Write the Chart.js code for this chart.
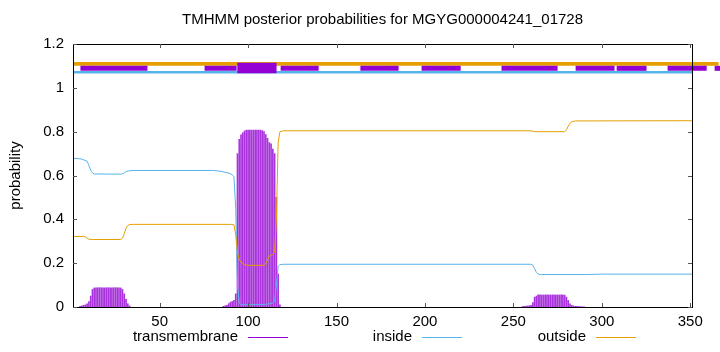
<!DOCTYPE html>
<html>
<head>
<meta charset="utf-8">
<title>TMHMM posterior probabilities</title>
<script src="https://cdn.jsdelivr.net/npm/chart.js@4.4.1/dist/chart.umd.min.js"></script>
<style>
  html, body { margin: 0; padding: 0; background: #fff; }
  canvas { display: block; }
</style>
</head>
<body>
<canvas id="tmhmmChart" width="720" height="352"></canvas>
<script>
// Axis ticks
const xTicks = [50, 100, 150, 200, 250, 300, 350];
const yTicks = [0, 0.2, 0.4, 0.6, 0.8, 1, 1.2];

// Transmembrane posterior per residue (the three stretches above zero)
const tmPeak1Start = 5;
const tmPeak1 = [0.003, 0.005, 0.008, 0.01, 0.015, 0.025, 0.05, 0.08, 0.087, 0.088,
  0.088, 0.088, 0.088, 0.088, 0.088, 0.088, 0.088, 0.088, 0.088, 0.088,
  0.088, 0.088, 0.088, 0.087, 0.08, 0.06, 0.035, 0.015, 0.005];
const tmPeak2Start = 86;
const tmPeak2 = [0.003, 0.005, 0.008, 0.015, 0.022, 0.025, 0.03, 0.06, 0.70, 0.765,
  0.785, 0.795, 0.803, 0.807, 0.807, 0.807, 0.807, 0.807, 0.807, 0.807,
  0.807, 0.807, 0.805, 0.80, 0.787, 0.77, 0.75, 0.745, 0.72, 0.70,
  0.5, 0.15, 0.01];
const tmPeak3Start = 255;
const tmPeak3 = [0.002, 0.003, 0.004, 0.005, 0.006, 0.008, 0.02, 0.045, 0.05, 0.055,
  0.055, 0.055, 0.055, 0.055, 0.055, 0.055, 0.055, 0.055, 0.055, 0.055,
  0.055, 0.055, 0.055, 0.055, 0.054, 0.045, 0.03, 0.015, 0.008, 0.005,
  0.003, 0.003, 0.002, 0.002, 0.001, 0.001];

// Inside posterior: [residue, probability]
const insidePoints = [[1, 0.678], [4, 0.677], [6, 0.675], [9, 0.665], [10, 0.645], [11, 0.625],
  [12, 0.612], [13, 0.607], [28, 0.606], [29, 0.608], [30, 0.612], [31, 0.618], [33, 0.622],
  [36, 0.623], [80, 0.623], [84, 0.62], [88, 0.613], [90, 0.608], [91, 0.603], [92, 0.595],
  [93, 0.45], [94, 0.1], [95, 0.02], [96, 0.01], [110, 0.012], [114, 0.018], [115, 0.025],
  [116, 0.1], [117, 0.185], [118, 0.193], [120, 0.195], [260, 0.195], [261, 0.19], [262, 0.175],
  [263, 0.158], [264, 0.15], [266, 0.148], [290, 0.148], [300, 0.15], [351, 0.15]];

// Outside posterior: [residue, probability]
const outsidePoints = [[1, 0.322], [7, 0.322], [8, 0.32], [9, 0.314], [10, 0.309], [12, 0.308],
  [28, 0.308], [29, 0.315], [30, 0.335], [31, 0.36], [32, 0.372], [33, 0.376], [35, 0.377],
  [90, 0.377], [92, 0.375], [93, 0.33], [94, 0.25], [95, 0.215], [96, 0.205], [98, 0.193],
  [100, 0.19], [109, 0.19], [110, 0.198], [111, 0.215], [112, 0.232], [114, 0.24], [115, 0.252],
  [116, 0.4], [117, 0.75], [118, 0.8], [120, 0.804], [260, 0.804], [262, 0.8], [279, 0.8],
  [280, 0.808], [281, 0.825], [282, 0.838], [283, 0.845], [285, 0.849], [351, 0.85]];

// Topology bars drawn above the curves
const outsideBar = [1, 366];
const insideBar = [1, 351];
const helixBar = [93.9, 116.1];
const tmBarSegments = [[5.2, 43.1], [75.4, 93.5], [118.4, 139.9], [163.5, 185.1], [198.1, 220.2],
  [243.3, 275], [285.2, 307.2], [308.4, 325.3], [337.2, 359.3], [363.8, 367]];

const PURPLE = '#9400d3';
const BLUE = '#56b4e9';
const ORANGE = '#e69f00';
const FONT = 'Liberation Sans, Arial, Helvetica, sans-serif';
const FONT_SIZE = 15;

function peakToPoints(start, values) {
  return values.map(function(v, i) { return { x: start + i, y: v }; });
}

function pairsToPoints(pairs) {
  return pairs.map(function(p) { return { x: p[0], y: p[1] }; });
}

function barLine(range, y, color, width, order) {
  return {
    type: 'line',
    data: [{ x: range[0], y: y }, { x: range[1], y: y }],
    borderColor: color,
    borderWidth: width,
    borderCapStyle: 'butt',
    pointRadius: 0,
    clip: false,
    order: order
  };
}

// Frame, inward ticks, title, axis label and legend drawn gnuplot-style
const gnuplotFrame = {
  id: 'gnuplotFrame',
  afterDraw: function(chart) {
    const ctx = chart.ctx;
    const a = chart.chartArea;
    const xs = chart.scales.x;
    const ys = chart.scales.y;
    ctx.save();

    ctx.strokeStyle = '#000';
    ctx.lineWidth = 1;
    ctx.strokeRect(a.left + 0.5, a.top + 0.5, a.right - a.left, a.bottom - a.top);

    ctx.strokeStyle = '#555';
    ctx.beginPath();
    xTicks.forEach(function(v) {
      const px = Math.round(xs.getPixelForValue(v)) + 0.5;
      ctx.moveTo(px, a.bottom); ctx.lineTo(px, a.bottom - 4);
      ctx.moveTo(px, a.top); ctx.lineTo(px, a.top + 4);
    });
    yTicks.forEach(function(v) {
      const py = Math.round(ys.getPixelForValue(v)) + 0.5;
      ctx.moveTo(a.left, py); ctx.lineTo(a.left + 4, py);
      ctx.moveTo(a.right, py); ctx.lineTo(a.right - 4, py);
    });
    ctx.stroke();

    ctx.fillStyle = '#000';
    ctx.font = FONT_SIZE + 'px ' + FONT;
    ctx.textAlign = 'center';
    ctx.textBaseline = 'middle';
    ctx.fillText('TMHMM posterior probabilities for MGYG000004241_01728', (a.left + a.right) / 2, 20);

    ctx.save();
    ctx.translate(16, (a.top + a.bottom) / 2);
    ctx.rotate(-Math.PI / 2);
    ctx.fillText('probability', 0, 0);
    ctx.restore();

    // legend: text then a short line sample
    const legendItems = [['transmembrane', PURPLE, 238], ['inside', BLUE, 412], ['outside', ORANGE, 586]];
    ctx.textAlign = 'right';
    legendItems.forEach(function(item) {
      ctx.fillStyle = '#000';
      ctx.fillText(item[0], item[2], 337);
      ctx.strokeStyle = item[1];
      ctx.lineWidth = 1;
      ctx.beginPath();
      ctx.moveTo(item[2] + 10, 337.5);
      ctx.lineTo(item[2] + 50, 337.5);
      ctx.stroke();
    });
    ctx.restore();
  }
};

const datasets = [
  {
    type: 'bar',
    label: 'transmembrane',
    data: peakToPoints(tmPeak1Start, tmPeak1)
      .concat(peakToPoints(tmPeak2Start, tmPeak2))
      .concat(peakToPoints(tmPeak3Start, tmPeak3)),
    backgroundColor: 'rgba(148, 0, 211, 0.8)',
    barThickness: 1,
    order: 3
  },
  {
    type: 'line',
    label: 'inside',
    data: pairsToPoints(insidePoints),
    borderColor: BLUE,
    borderWidth: 1,
    pointRadius: 0,
    order: 2
  },
  {
    type: 'line',
    label: 'outside',
    data: pairsToPoints(outsidePoints),
    borderColor: ORANGE,
    borderWidth: 1,
    pointRadius: 0,
    order: 1
  },
  barLine(insideBar, 1.071, BLUE, 2.7, 6),
  barLine(outsideBar, 1.1095, ORANGE, 3.8, 5)
];
tmBarSegments.forEach(function(seg) {
  datasets.push(barLine(seg, 1.089, PURPLE, 5, 4));
});
datasets.push(barLine(helixBar, 1.09, PURPLE, 10.5, 0));

const ctx = document.getElementById('tmhmmChart').getContext('2d');
const tmhmmChart = new Chart(ctx, {
  type: 'line',
  data: { datasets: datasets },
  options: {
    responsive: false,
    animation: false,
    layout: { padding: { top: 44, right: 28, left: 0, bottom: 0 } },
    plugins: {
      legend: { display: false },
      tooltip: { enabled: false }
    },
    scales: {
      x: {
        type: 'linear',
        min: 1,
        max: 351,
        offset: false,
        grid: { display: false, drawTicks: false },
        border: { display: false },
        afterBuildTicks: function(s) { s.ticks = xTicks.map(function(v) { return { value: v }; }); },
        afterFit: function(s) { s.height = 45; },
        ticks: {
          padding: 6,
          maxRotation: 0,
          autoSkip: false,
          color: '#000',
          font: { family: FONT, size: FONT_SIZE }
        }
      },
      y: {
        min: 0,
        max: 1.2,
        grid: { display: false, drawTicks: false },
        border: { display: false },
        afterBuildTicks: function(s) { s.ticks = yTicks.map(function(v) { return { value: v }; }); },
        afterFit: function(s) { s.width = 73; },
        ticks: {
          padding: 9,
          color: '#000',
          font: { family: FONT, size: FONT_SIZE },
          callback: function(value) { return String(value); }
        }
      }
    }
  },
  plugins: [gnuplotFrame]
});
</script>
</body>
</html>
